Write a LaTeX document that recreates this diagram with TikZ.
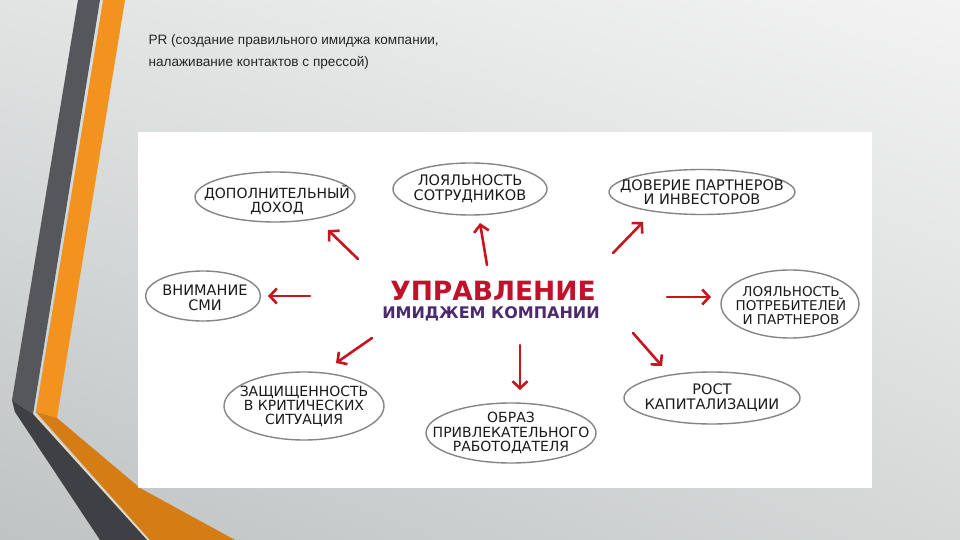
\documentclass[tikz,border=0pt]{standalone}
\usepackage{fontspec}
\setmainfont{Liberation Sans}
\newfontfamily\hand{DejaVu Sans}
\usetikzlibrary{shapes.geometric,arrows.meta,shadings}
\definecolor{darkstripe}{HTML}{55575A}
\definecolor{darkstripelow}{HTML}{3F4043}
\definecolor{orangeup}{HTML}{F29320}
\definecolor{orangelow}{HTML}{D57D14}
\definecolor{arrowred}{HTML}{C8141E}
\definecolor{titlered}{HTML}{C0122A}
\definecolor{titlepurple}{HTML}{4B2A6E}
\definecolor{ellgray}{HTML}{858585}
\definecolor{inktext}{HTML}{1A1A1A}
\definecolor{bgul}{RGB}{226,228,228}
\definecolor{bgur}{RGB}{243,243,243}
\definecolor{bgll}{RGB}{190,195,195}
\definecolor{bglr}{RGB}{214,216,216}
\definecolor{blueline}{RGB}{200,220,235}
\definecolor{creamline}{RGB}{245,225,190}
\begin{document}
\begin{tikzpicture}[x=1pt,y=-1pt,
  bubble/.style={ellipse, draw=ellgray, line width=1.4pt, fill=white, inner sep=0pt},
  bubbletext/.style={inner sep=0pt, align=center, text=inktext, font=\hand\fontsize{14.5}{14.5}\selectfont},
  arr/.style={draw=arrowred, line width=2.6pt, line cap=round,
     -{Straight Barb[length=7pt,width=15pt,line width=2.6pt]}},
  titletext/.style={anchor=base west, text=black!85, font=\fontsize{13.6}{16}\selectfont}
]
\useasboundingbox (0,0) rectangle (960,540);
% background
\shade[upper left=bgul, upper right=bgur, lower left=bgll, lower right=bglr]
  (0,0) rectangle (960,540);
% stripes
\fill[darkstripe] (78,0) -- (100,0) -- (33,414) -- (12,400) -- cycle;
\fill[darkstripelow] (12,400) -- (33,414) -- (147,540) -- (100,540) -- (15,412) -- cycle;
\fill[orangeup] (103,0) -- (125,0) -- (57,418) -- (36,412) -- cycle;
\fill[orangelow] (36,412) -- (57,418) -- (140,488) -- (235,540) -- (150,540) -- cycle;
\draw[line width=0.8pt, blueline] (101.5,0) -- (34.5,413);
\draw[line width=0.9pt, creamline] (34.5,414) -- (148.5,540);
% white picture area
\fill[white] (138,132) rectangle (872,488);
% title
\node[titletext] (t1) at (145,45) {PR (создание правильного имиджа компании,};
\node[titletext] (t2) at (145,67) {налаживание контактов с прессой)};
% center
\node[anchor=base, text=titlered, font=\hand\bfseries\fontsize{26.5}{30}\selectfont] (c1) at (493,300) {УПРАВЛЕНИЕ};
\node[anchor=base, text=titlepurple, font=\hand\bfseries\fontsize{16}{18}\selectfont] (c2) at (491,318) {ИМИДЖЕМ КОМПАНИИ};
% bubbles
\node[bubble, minimum width=160pt, minimum height=50pt] (e1) at (275,197) {};
\node[bubbletext, font=\hand\fontsize{14}{14.5}\selectfont] (e1t) at (277,200) {ДОПОЛНИТЕЛЬНЫЙ\\ДОХОД};
\node[bubble, minimum width=154pt, minimum height=52pt] (e2) at (470,189) {};
\node[bubbletext] (e2t) at (e2.center) {ЛОЯЛЬНОСТЬ\\СОТРУДНИКОВ};
\node[bubble, minimum width=186pt, minimum height=45pt] (e3) at (702,192) {};
\node[bubbletext, font=\hand\fontsize{14.5}{13}\selectfont] (e3t) at (e3.center) {ДОВЕРИЕ ПАРТНЕРОВ\\И ИНВЕСТОРОВ};
\node[bubble, minimum width=115pt, minimum height=50pt] (e4) at (203,296) {};
\node[bubbletext] (e4t) at (205,298) {ВНИМАНИЕ\\СМИ};
\node[bubble, minimum width=138pt, minimum height=68pt] (e5) at (790,304) {};
\node[bubbletext, font=\hand\fontsize{13.5}{14}\selectfont] (e5t) at (791,306) {ЛОЯЛЬНОСТЬ\\ПОТРЕБИТЕЛЕЙ\\И ПАРТНЕРОВ};
\node[bubble, minimum width=160pt, minimum height=68pt] (e6) at (304,406) {};
\node[bubbletext, font=\hand\fontsize{14}{14}\selectfont] (e6t) at (e6.center) {ЗАЩИЩЕННОСТЬ\\В КРИТИЧЕСКИХ\\СИТУАЦИЯ};
\node[bubble, minimum width=170pt, minimum height=60pt] (e7) at (511,433) {};
\node[bubbletext, font=\hand\fontsize{14}{14.5}\selectfont] (e7t) at (e7.center) {ОБРАЗ\\ПРИВЛЕКАТЕЛЬНОГО\\РАБОТОДАТЕЛЯ};
\node[bubble, minimum width=176pt, minimum height=52pt] (e8) at (712,398) {};
\node[bubbletext] (e8t) at (e8.center) {РОСТ\\КАПИТАЛИЗАЦИИ};
% arrow ends
\coordinate (a1s) at (358,259); \coordinate (a1e) at (328,230);
\coordinate (a2s) at (487,265); \coordinate (a2e) at (480,223);
\coordinate (a3s) at (613,253); \coordinate (a3e) at (643,222);
\coordinate (a4s) at (310,296); \coordinate (a4e) at (268,296);
\coordinate (a5s) at (667,297); \coordinate (a5e) at (711,297);
\coordinate (a6s) at (372,338); \coordinate (a6e) at (336,363);
\coordinate (a7s) at (520,345); \coordinate (a7e) at (520,390);
\coordinate (a8s) at (633,333); \coordinate (a8e) at (662,366);
\foreach \i in {1,...,8} { \draw[arr] (a\i s) -- (a\i e); }
\end{tikzpicture}
\end{document}
